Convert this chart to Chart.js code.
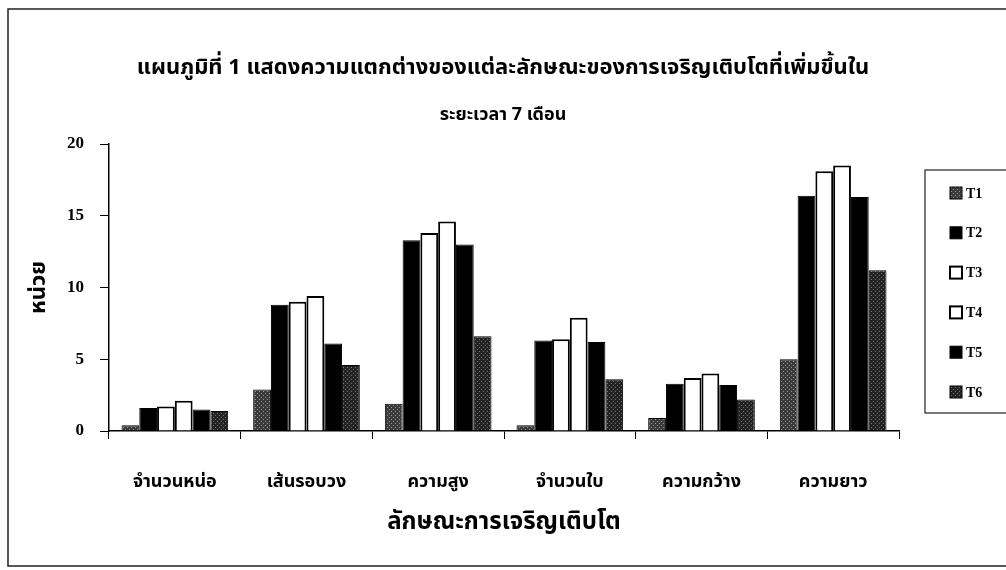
<!DOCTYPE html>
<html>
<head>
<meta charset="utf-8">
<script src="https://cdn.jsdelivr.net/npm/chart.js@4.4.1/dist/chart.umd.min.js"></script>
<style>
  html, body { margin: 0; padding: 0; background: #fff; }
  #wrap { width: 1006px; height: 570px; position: relative; }
</style>
</head>
<body>
<div id="wrap"><canvas id="chart"></canvas></div>
<script>
// growth traits, 7 months
const categories = ['จำนวนหน่อ', 'เส้นรอบวง', 'ความสูง', 'จำนวนใบ', 'ความกว้าง', 'ความยาว'];
const seriesNames = ['T1', 'T2', 'T3', 'T4', 'T5', 'T6'];
const t1 = [0.4, 2.9, 1.9, 0.4, 0.9, 5.0];
const t2 = [1.6, 8.8, 13.3, 6.3, 3.3, 16.4];
const t3 = [1.7, 9.0, 13.8, 6.4, 3.7, 18.1];
const t4 = [2.1, 9.4, 14.6, 7.9, 4.0, 18.5];
const t5 = [1.5, 6.1, 13.0, 6.2, 3.2, 16.3];
const t6 = [1.4, 4.6, 6.6, 3.6, 2.2, 11.2];
const yTicks = [0, 5, 10, 15, 20];

const thai = "'Noto Sans Thai', 'Noto Serif Thai', Loma, Garuda, 'Tlwg Typo', 'Noto Sans', sans-serif";
const serif = "'Liberation Serif', 'DejaVu Serif', serif";

// speckled gray fill like the scanned print
function speckle(base, dot) {
  const c = document.createElement('canvas');
  c.width = 4; c.height = 4;
  const g = c.getContext('2d');
  g.fillStyle = base;
  g.fillRect(0, 0, 4, 4);
  g.fillStyle = dot;
  g.fillRect(1, 1, 1, 1);
  g.fillRect(3, 3, 1, 1);
  return g.createPattern(c, 'repeat');
}

const fills = [speckle('#3a3a3a', '#9a9a9a'), '#000', '#fff', '#fff', '#000', speckle('#222', '#777')];
const values = [t1, t2, t3, t4, t5, t6];

const frameAndLegend = {
  id: 'frameAndLegend',
  afterDraw(chart) {
    const ctx = chart.ctx;
    ctx.save();
    // outer frame (right edge runs off the page)
    ctx.strokeStyle = '#222';
    ctx.lineWidth = 1.5;
    ctx.strokeRect(8, 9, 1010, 557);
    // legend box
    ctx.lineWidth = 1.2;
    ctx.strokeRect(925, 170, 90, 243);
    ctx.font = 'bold 14px ' + serif;
    ctx.textBaseline = 'middle';
    chart.data.datasets.forEach((ds, i) => {
      const y = 193 + i * 39.8;
      ctx.fillStyle = ds.backgroundColor;
      ctx.fillRect(950, y - 6, 12, 12);
      ctx.strokeStyle = '#000';
      ctx.lineWidth = ds.borderWidth;
      ctx.strokeRect(950, y - 6, 12, 12);
      ctx.fillStyle = '#000';
      ctx.fillText(ds.label, 966, y + 1);
    });
    ctx.restore();
  }
};

new Chart(document.getElementById('chart'), {
  type: 'bar',
  data: {
    labels: categories,
    datasets: seriesNames.map((name, i) => ({
      label: name,
      data: values[i],
      backgroundColor: fills[i],
      borderColor: '#000',
      borderWidth: (i === 2 || i === 3) ? 2 : 1,
      categoryPercentage: 0.81,
      barPercentage: 1.0
    }))
  },
  options: {
    responsive: true,
    maintainAspectRatio: false,
    animation: false,
    events: [],
    layout: { padding: { left: 8, right: 8, top: 0, bottom: 29 } },
    plugins: {
      legend: { display: false },
      tooltip: { enabled: false },
      title: {
        display: true,
        text: 'แผนภูมิที่ 1 แสดงความแตกต่างของแต่ละลักษณะของการเจริญเติบโตที่เพิ่มขึ้นใน',
        color: '#000',
        font: { family: thai, size: 22, weight: 'bold', lineHeight: 1.2 },
        padding: { top: 56, bottom: 19 }
      },
      subtitle: {
        display: true,
        text: 'ระยะเวลา 7 เดือน',
        color: '#000',
        font: { family: thai, size: 18, weight: 'bold', lineHeight: 1.2 },
        padding: { top: 4, bottom: 17 }
      }
    },
    scales: {
      x: {
        grid: { display: true, drawOnChartArea: false, drawTicks: true, tickLength: 8, tickColor: '#000', offset: true },
        border: { display: true, color: '#000', width: 1.5 },
        ticks: { color: '#000', padding: 34, maxRotation: 0, font: { family: thai, size: 18, weight: 'bold' } },
        title: {
          display: true,
          text: 'ลักษณะการเจริญเติบโต',
          color: '#000',
          font: { family: thai, size: 24, weight: 'bold', lineHeight: 1.2 },
          padding: { top: 0, bottom: 2 }
        },
        afterFit(scale) { scale.height = 110; }
      },
      y: {
        min: 0,
        max: 20,
        afterBuildTicks(scale) { scale.ticks = yTicks.map(v => ({ value: v })); },
        grid: { display: true, drawOnChartArea: false, drawTicks: true, tickLength: 9, tickColor: '#000' },
        border: { display: true, color: '#000', width: 1.5 },
        ticks: { color: '#000', padding: 16, font: { family: serif, size: 17, weight: 'bold' } },
        title: {
          display: true,
          text: 'หน่วย',
          color: '#000',
          font: { family: thai, size: 22, weight: 'bold', lineHeight: 1.2 },
          padding: { top: 19, bottom: 0 }
        },
        afterFit(scale) { scale.width = 101; }
      },
      // empty right-hand strip that holds the space for the legend
      legendSpace: {
        type: 'linear',
        position: 'right',
        grid: { display: false },
        border: { display: false },
        ticks: { display: false },
        afterFit(scale) { scale.width = 99; }
      }
    }
  },
  plugins: [frameAndLegend]
});
</script>
</body>
</html>
